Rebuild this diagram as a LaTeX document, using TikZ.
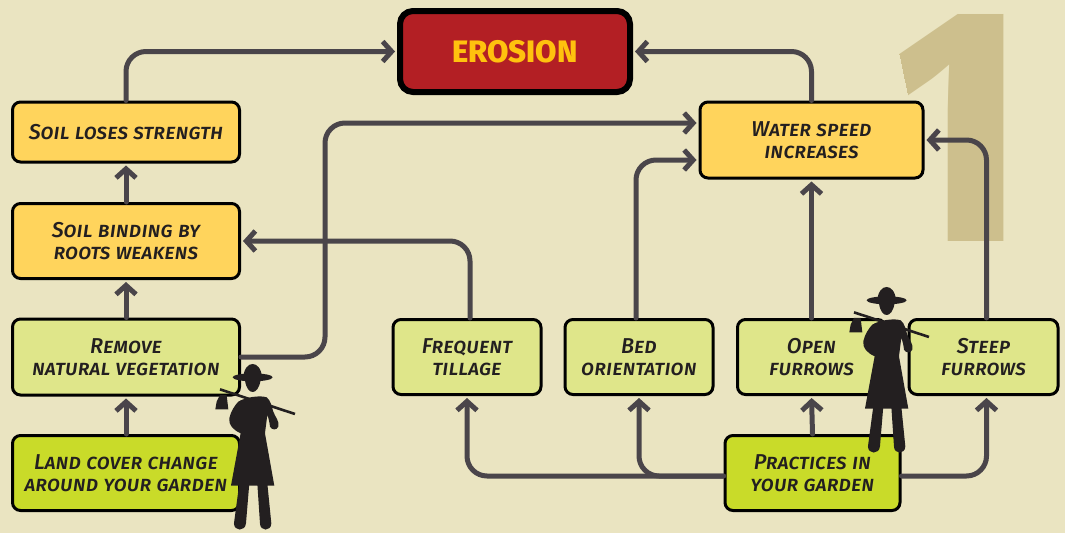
\documentclass[tikz,border=0pt]{standalone}
\usepackage{fontspec}
\setmainfont{Fira Sans}[ItalicFont=* Medium Italic,BoldFont=* ExtraBold]
\newfontfamily\bignum{Open Sans}
\usetikzlibrary{arrows.meta}
\definecolor{bgc}{HTML}{EAE4C1}
\definecolor{linec}{HTML}{4A454A}
\definecolor{inkc}{HTML}{231F20}
\definecolor{yellowc}{HTML}{FFD45C}
\definecolor{paleg}{HTML}{DFE68A}
\definecolor{darkg}{HTML}{C9DB29}
\definecolor{redc}{HTML}{B31F24}
\definecolor{titlec}{HTML}{FFC20E}
\definecolor{numc}{HTML}{CDBF8D}
\tikzset{
  box/.style={draw=black,line width=3pt,rounded corners=8pt,align=center,inner sep=0pt,text=inkc,
    font=\fontsize{21.5}{22}\selectfont\itshape\scshape},
  conn/.style={draw=linec,line width=5pt,line cap=round,rounded corners=20pt,
    -{Straight Barb[length=9pt,width=20pt,line width=5pt]},shorten >=2pt}
}
\newcommand{\farmer}[2]{%
\begin{scope}[shift={(#1,#2)},x=0.3333pt,y=-0.3333pt]
  \draw[inkc,line width=2.6pt] (660,268) -- (885,342);
  \fill[inkc] (660,285) -- (680,285) -- (685,328) -- (646,328) -- (650,305) -- cycle;
  \fill[inkc] (758,232) ellipse (60 and 12);
  \fill[inkc] (730,232) .. controls (732,205) and (745,192) .. (758,192) .. controls (771,192) and (784,205) .. (786,232) -- cycle;
  \fill[inkc] (735,240) .. controls (738,265) and (748,276) .. (758,276) .. controls (768,276) and (778,265) .. (782,240) -- cycle;
  % body, skirt
  \fill[inkc] (715,305) .. controls (735,292) and (780,285) .. (800,292)
     .. controls (812,300) and (815,320) .. (820,335)
     .. controls (825,350) and (840,365) .. (835,380)
     .. controls (830,392) and (815,390) .. (810,380)
     .. controls (809,368) and (806,355) .. (802,345)
     -- (795,400) -- (823,557) -- (693,557) -- (722,400)
     .. controls (700,390) and (685,375) .. (688,355)
     .. controls (692,335) and (705,315) .. (715,305) -- cycle;
  % legs
  \fill[inkc] (718,550) -- (748,550) -- (738,670) .. controls (736,695) and (702,695) .. (702,670) -- cycle;
  \fill[inkc] (772,550) -- (802,550) -- (814,670) .. controls (814,695) and (780,695) .. (780,670) -- cycle;
\end{scope}}
\begin{document}
\begin{tikzpicture}[x=1pt,y=-1pt]
\useasboundingbox (0,0) rectangle (1065,533);
\fill[bgc] (0,0) rectangle (1065,533);
\begin{scope}
  \clip (888,0) -- (1065,0) -- (1065,260) -- (942,260) -- cycle;
  \node[text=numc,inner sep=0pt,anchor=center,xscale=1.16] (one) at (957,128) {\bignum\bfseries\fontsize{318}{318}\selectfont 1};
\end{scope}

\node[box,fill=redc,line width=6pt,rounded corners=13pt,minimum width=230pt,minimum height=81pt,
      font=\fontsize{31}{34}\selectfont\bfseries,text=titlec] (erosion) at (515,51.5) {EROSION};
\node[box,fill=yellowc,minimum width=227pt,minimum height=60pt] (soil) at (126,132) {Soil loses strength};
\node[box,fill=yellowc,minimum width=227pt,minimum height=75pt] (bind) at (126,241) {Soil binding by\\roots weakens};
\node[box,fill=paleg,minimum width=227pt,minimum height=76pt] (remove) at (126,357) {Remove\\natural vegetation};
\node[box,fill=darkg,minimum width=227pt,minimum height=75pt] (land) at (126,473) {Land cover change\\around your garden};
\node[box,fill=yellowc,minimum width=223pt,minimum height=76pt] (water) at (811.5,140) {Water speed\\increases};
\node[box,fill=paleg,minimum width=148pt,minimum height=75pt] (freq) at (467,357) {Frequent\\tillage};
\node[box,fill=paleg,minimum width=148pt,minimum height=75pt] (bed) at (639,357) {Bed\\orientation};
\node[box,fill=paleg,minimum width=148pt,minimum height=75pt] (open) at (811.5,357) {Open\\furrows};
\node[box,fill=paleg,minimum width=149pt,minimum height=75pt] (steep) at (983.5,357) {Steep\\furrows};
\node[box,fill=darkg,minimum width=175pt,minimum height=75pt] (prac) at (812.5,473) {Practices in\\your garden};

\coordinate (vbend) at (325,240);

\draw[conn] (soil.north) |- (erosion.west);
\draw[conn] (water.north) |- (erosion.east);
\draw[conn] (bind.north) -- (soil.south);
\draw[conn] (remove.north) -- (bind.south);
\draw[conn] (land.north) -- (remove.south);
\draw[conn] (remove.east) -| (vbend) |- ([yshift=17pt]water.west);
\draw[conn] ([xshift=3pt]freq.north) |- (bind.east);
\draw[conn] ([xshift=-3pt]bed.north) |- ([yshift=-20pt]water.west);
\draw[conn] (open.north) -- (water.south);
\draw[conn] ([xshift=3pt]steep.north) |- (water.east);
\draw[conn] ([yshift=-3pt]prac.west) -| (freq.south);
\draw[conn] ([yshift=-3pt]prac.west) -| (bed.south);
\draw[conn] (prac.north) -- (open.south);
\draw[conn] ([yshift=-3pt]prac.east) -| ([xshift=3pt]steep.south);

\farmer{0}{300}
\farmer{634}{223}
\end{tikzpicture}
\end{document}
